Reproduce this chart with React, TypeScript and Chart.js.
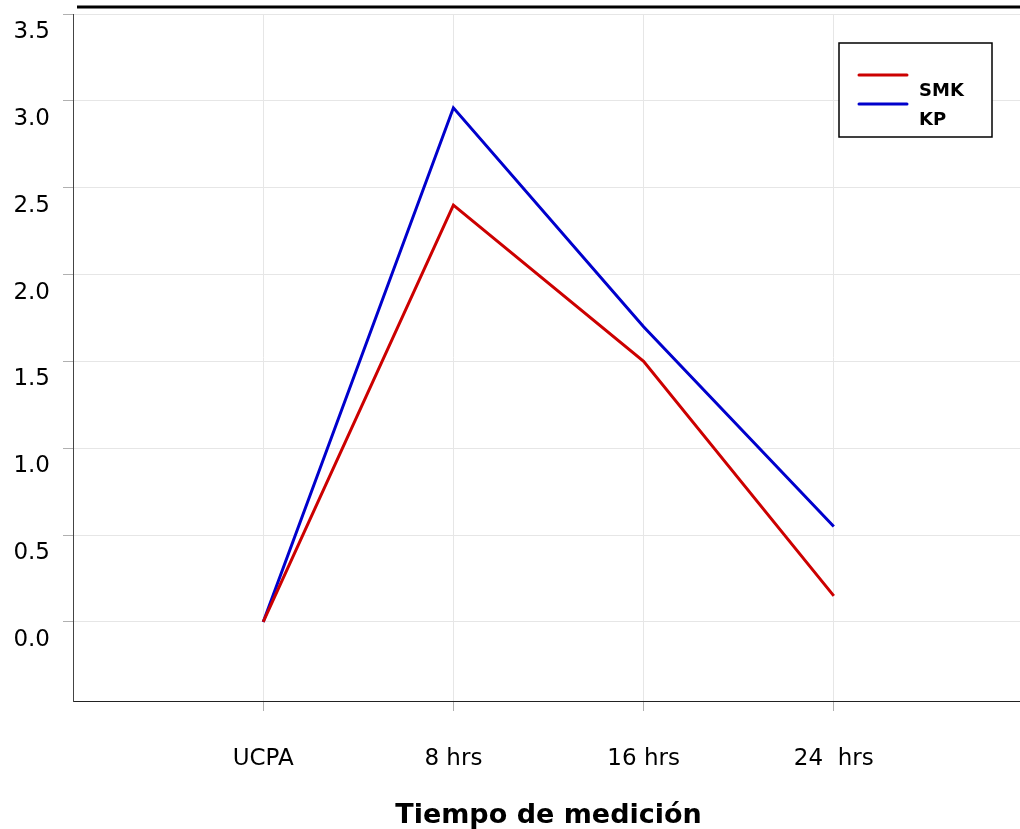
import { useEffect, useRef } from "react";
import { Chart, registerables } from "chart.js";

Chart.register(...registerables);

const categories = ["UCPA", "8 hrs", "16 hrs", "24  hrs"];
const categoryPositions = [0, 1, 2, 3];
const seriesNames = ["SMK", "KP"];
const seriesColors = ["#CC0000", "#0000CC"];
const smkValues = [0, 2.4, 1.5, 0.15];
const kpValues = [0, 2.96, 1.7, 0.55];
const yTickValues = [0, 0.5, 1, 1.5, 2, 2.5, 3, 3.5];
const xTitle = "Tiempo de medición";

const FONT = '"DejaVu Sans", "Liberation Sans", Arial, sans-serif';

const boxLegend = {
  id: "boxLegend",
  afterDraw(chart: any) {
    const { ctx, chartArea } = chart;
    const w = 153;
    const h = 94;
    const x0 = chartArea.right - 32 - w;
    const y0 = chartArea.top + 29;
    ctx.save();
    ctx.fillStyle = "#ffffff";
    ctx.fillRect(x0, y0, w, h);
    ctx.strokeStyle = "#000000";
    ctx.lineWidth = 1.5;
    ctx.strokeRect(x0, y0, w, h);
    chart.data.datasets.forEach((ds: any, i: number) => {
      const ly = y0 + 32 + i * 29;
      ctx.strokeStyle = ds.borderColor;
      ctx.lineWidth = 3;
      ctx.lineCap = "round";
      ctx.beginPath();
      ctx.moveTo(x0 + 20, ly);
      ctx.lineTo(x0 + 68, ly);
      ctx.stroke();
      ctx.fillStyle = "#000000";
      ctx.font = `bold 18px ${FONT}`;
      ctx.textBaseline = "middle";
      ctx.textAlign = "left";
      ctx.fillText(ds.label, x0 + 80, ly + 16);
    });
    ctx.restore();
  },
};

const topRule = {
  id: "topRule",
  afterDraw(chart: any) {
    const { ctx, chartArea } = chart;
    ctx.save();
    ctx.strokeStyle = "#000000";
    ctx.lineWidth = 3;
    ctx.beginPath();
    ctx.moveTo(chartArea.left + 4, chartArea.top - 7);
    ctx.lineTo(chart.width, chartArea.top - 7);
    ctx.stroke();
    ctx.restore();
  },
};

export default function App() {
  const canvasRef = useRef<HTMLCanvasElement | null>(null);

  useEffect(() => {
    document.body.style.margin = "0";
    const canvas = canvasRef.current;
    if (!canvas) return;
    const seriesValues = [smkValues, kpValues];
    const chart = new Chart(canvas, {
      type: "line",
      data: {
        datasets: seriesNames.map((name, i) => ({
          label: name,
          data: categoryPositions.map((x, j) => ({ x, y: seriesValues[i][j] })),
          borderColor: seriesColors[i],
          backgroundColor: seriesColors[i],
          borderWidth: 3,
          pointRadius: 0,
          tension: 0,
          fill: false,
        })),
      },
      options: {
        responsive: false,
        animation: false,
        layout: { padding: { top: 14, left: 0, right: 0, bottom: 0 } },
        plugins: {
          legend: { display: false },
          tooltip: { enabled: false },
          title: { display: false },
        },
        scales: {
          x: {
            type: "linear",
            min: -1,
            max: 4,
            afterBuildTicks: (scale: any) => {
              scale.ticks = categoryPositions.map((v) => ({ value: v }));
            },
            afterFit: (scale: any) => {
              scale.height = 128;
              scale.paddingLeft = 0;
              scale.paddingRight = 0;
            },
            ticks: {
              callback: (v: any) => categories[Math.round(Number(v))] ?? "",
              font: { family: FONT, size: 23 },
              color: "#000000",
              padding: 34,
              maxRotation: 0,
              autoSkip: false,
            },
            grid: {
              color: "#e6e6e6",
              lineWidth: 1,
              tickLength: 10,
              tickColor: "#b0b0b0",
              drawTicks: true,
            },
            border: { display: true, color: "#222222", width: 1 },
            title: {
              display: true,
              text: xTitle,
              font: { family: FONT, size: 27, weight: "bold", lineHeight: 1.0 },
              color: "#000000",
              padding: { top: 0, bottom: 0 },
            },
          },
          y: {
            type: "linear",
            min: -0.455,
            max: 3.5,
            afterBuildTicks: (scale: any) => {
              scale.ticks = yTickValues.map((v) => ({ value: v }));
            },
            afterFit: (scale: any) => {
              scale.width = 73;
              scale.paddingTop = 0;
              scale.paddingBottom = 0;
            },
            ticks: {
              callback: (v: any) => Number(v).toFixed(1),
              font: { family: FONT, size: 23 },
              color: "#000000",
              padding: 13,
              labelOffset: 18,
            },
            grid: {
              color: "#e6e6e6",
              lineWidth: 1,
              tickLength: 10,
              tickColor: "#b0b0b0",
              drawTicks: true,
            },
            border: { display: true, color: "#444444", width: 1 },
          },
        },
      },
      plugins: [boxLegend, topRule],
    } as any);
    return () => chart.destroy();
  }, []);

  return (
    <div
      style={{
        position: "fixed",
        left: 0,
        top: 0,
        width: 1020,
        height: 829,
        overflow: "hidden",
        background: "#ffffff",
      }}
    >
      <canvas ref={canvasRef} width={1024} height={829} style={{ display: "block" }} />
    </div>
  );
}
